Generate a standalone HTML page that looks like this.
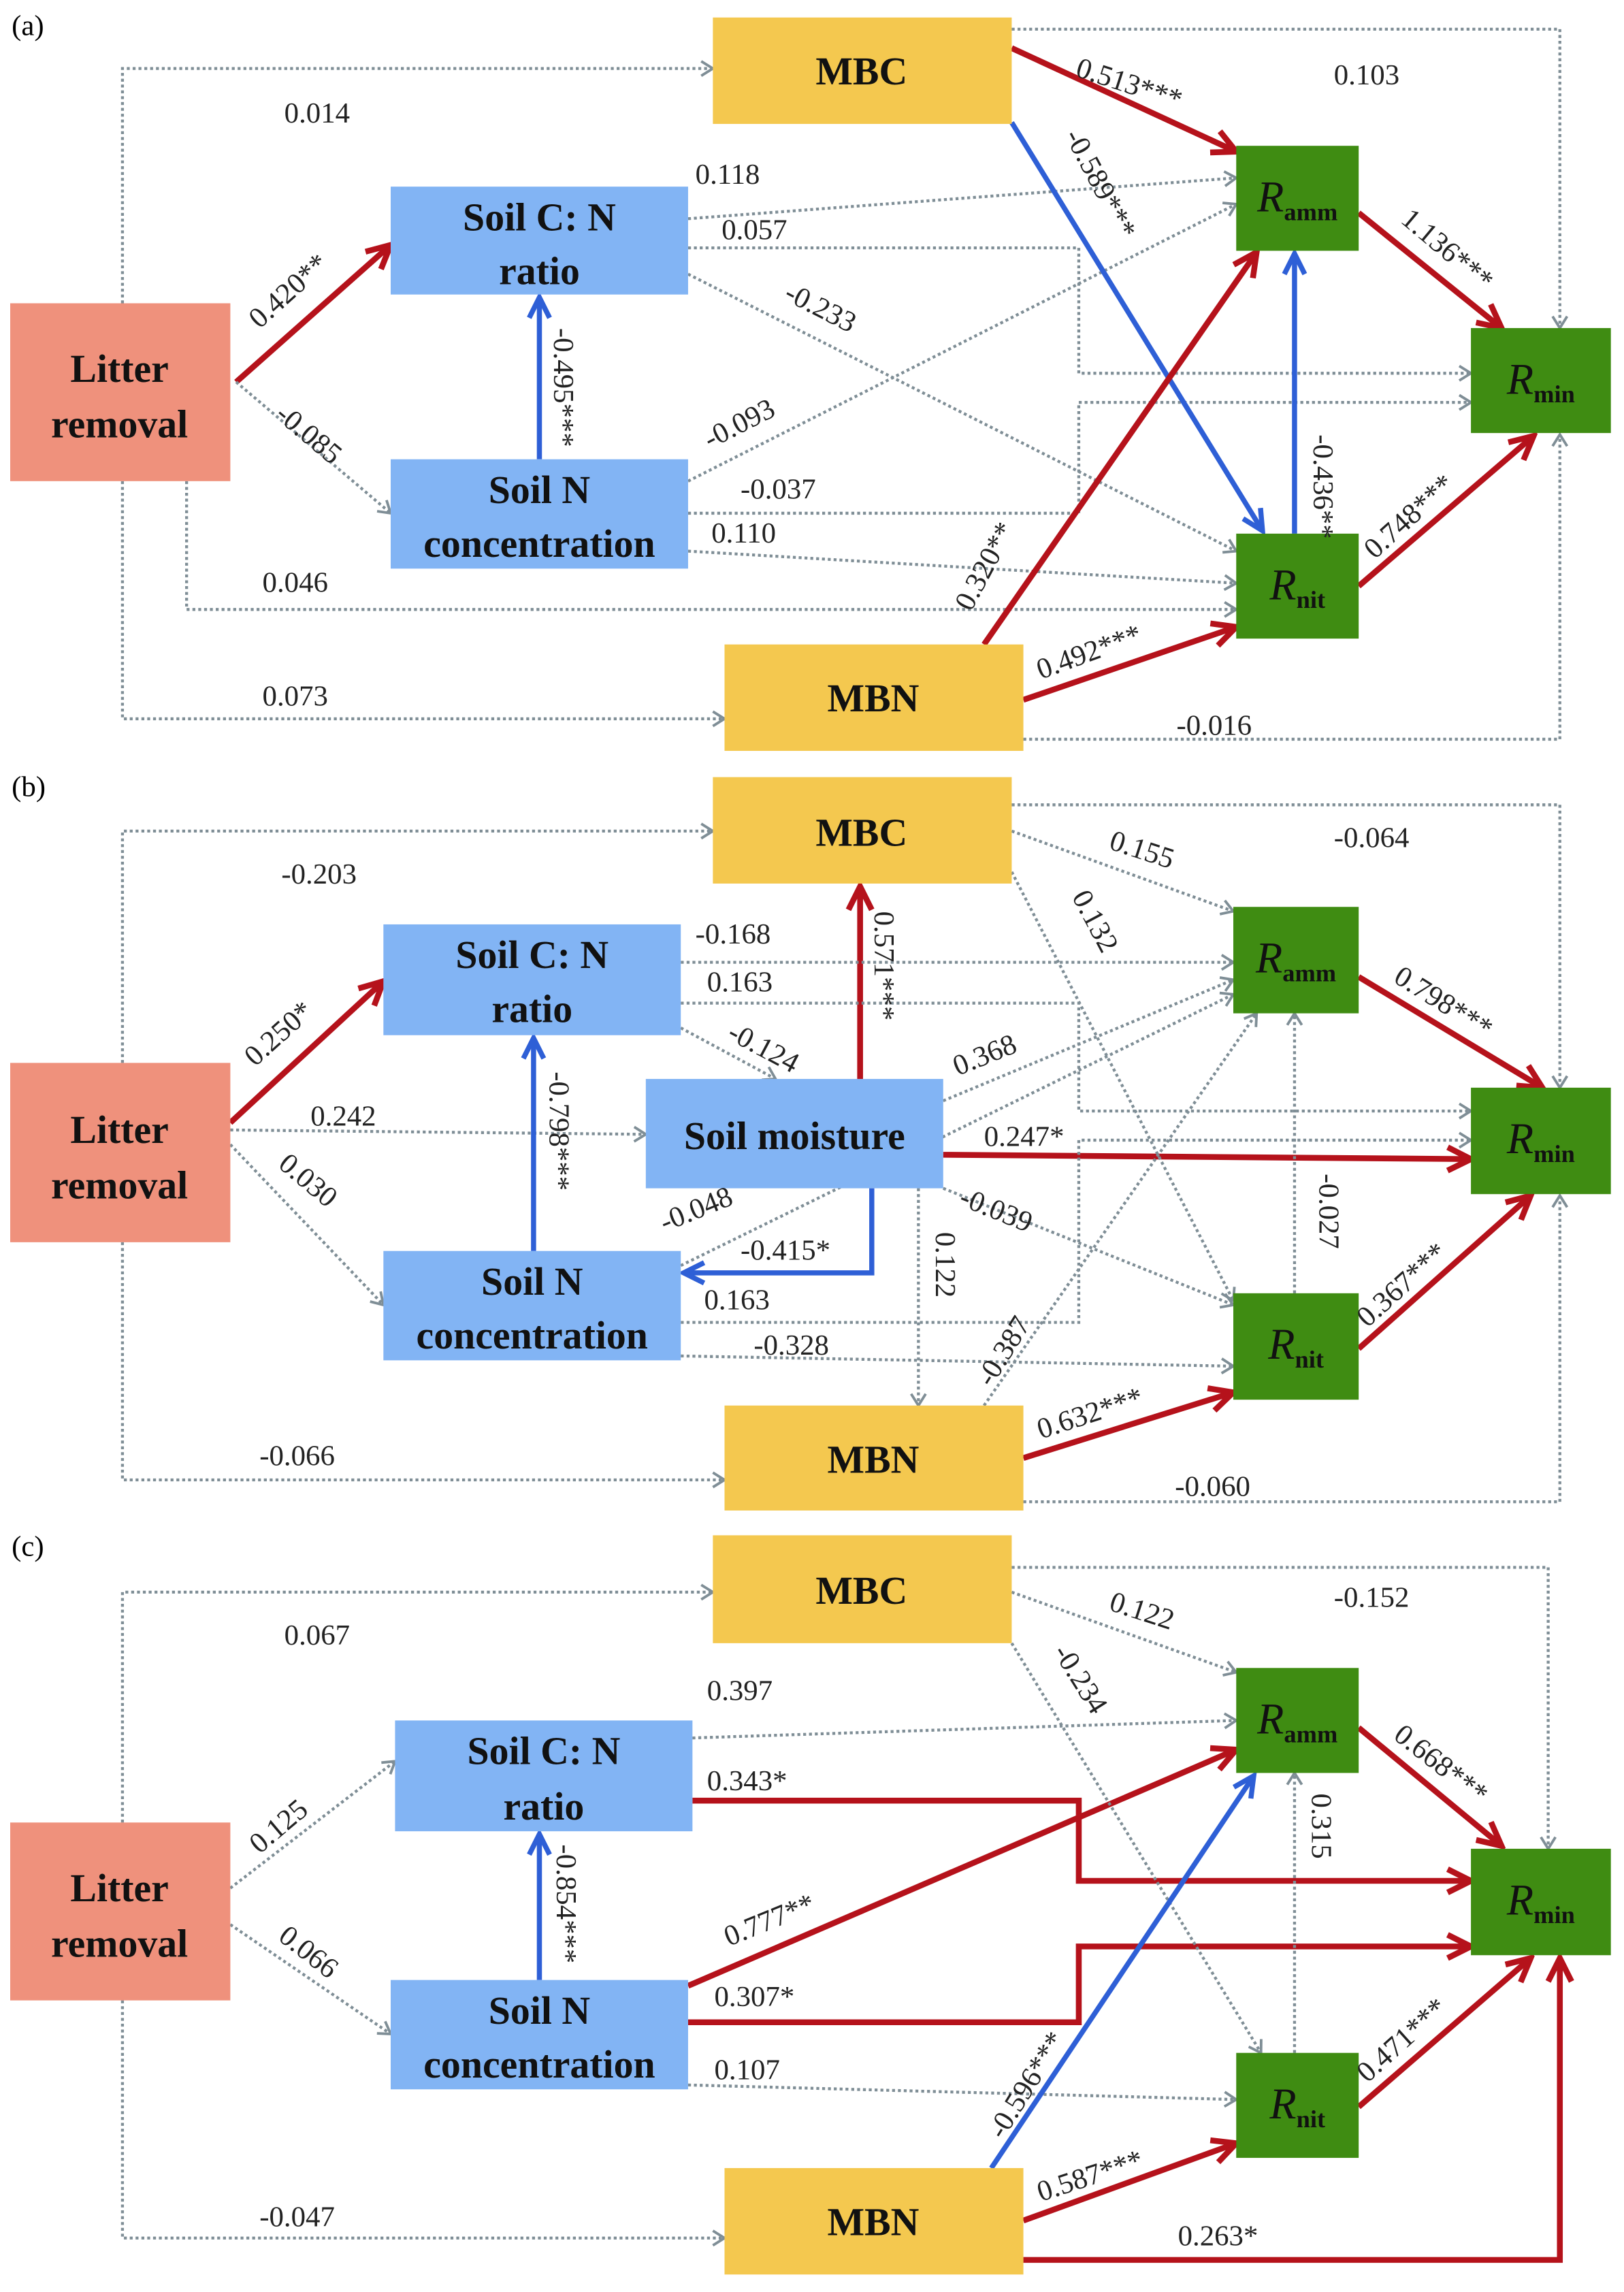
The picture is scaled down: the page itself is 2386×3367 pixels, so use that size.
<!DOCTYPE html>
<html><head><meta charset="utf-8"><style>
html,body{margin:0;padding:0;background:#fff}
svg{display:block}
text{font-family:"Liberation Serif",serif}
.b{font-family:"Liberation Serif",serif;font-weight:bold;font-size:27px;fill:#111;text-anchor:middle}
.l{font-family:"Liberation Serif",serif;font-size:20px;fill:#222}
.d{stroke:#7f8e96;stroke-width:2;stroke-dasharray:2 2;fill:none}
.r{stroke:#b5121b;stroke-width:4;fill:none}
.u{stroke:#2e5fd6;stroke-width:3.5;fill:none}
</style></head><body>
<svg width="2386" height="3367" viewBox="0 0 1114 1572" preserveAspectRatio="none" xmlns="http://www.w3.org/2000/svg" font-family="Liberation Serif, serif">
<defs>
<marker id="ad" markerUnits="userSpaceOnUse" markerWidth="12" markerHeight="12" refX="10" refY="6" orient="auto"><path d="M2,1 L10,6 L2,11" fill="none" stroke="#7f8e96" stroke-width="1.8"/></marker>
<marker id="ar" markerUnits="userSpaceOnUse" markerWidth="22" markerHeight="22" refX="19" refY="11" orient="auto"><path d="M3,3 L19,11 L3,19" fill="none" stroke="#b5121b" stroke-width="4"/></marker>
<marker id="au" markerUnits="userSpaceOnUse" markerWidth="20" markerHeight="20" refX="17" refY="10" orient="auto"><path d="M3,3 L17,10 L3,17" fill="none" stroke="#2e5fd6" stroke-width="3.5"/></marker>
</defs>

<!-- ===== Panel (a) ===== -->
<text x="8" y="24" font-size="20">(a)</text>
<g>
<polyline class="d" points="84,208 84,47 489,47" marker-end="url(#ad)"/>
<polyline class="d" points="84,330 84,493 497,493" marker-end="url(#ad)"/>
<polyline class="d" points="128,330 128,418 848,418" marker-end="url(#ad)"/>
<line class="r" x1="162" y1="262" x2="268" y2="168" marker-end="url(#ar)"/>
<line class="d" x1="162" y1="262" x2="268" y2="352" marker-end="url(#ad)"/>
<line class="u" x1="370" y1="315" x2="370" y2="204" marker-end="url(#au)"/>
<line class="d" x1="472" y1="150" x2="848" y2="122" marker-end="url(#ad)"/>
<polyline class="d" points="472,170 740,170 740,256 1009,256" marker-end="url(#ad)"/>
<line class="d" x1="472" y1="188" x2="848" y2="378" marker-end="url(#ad)"/>
<line class="d" x1="472" y1="330" x2="848" y2="140" marker-end="url(#ad)"/>
<polyline class="d" points="472,352 740,352 740,276 1009,276" marker-end="url(#ad)"/>
<line class="d" x1="472" y1="378" x2="848" y2="400" marker-end="url(#ad)"/>
<line class="r" x1="694" y1="33" x2="848" y2="104" marker-end="url(#ar)"/>
<polyline class="d" points="694,20 1070,20 1070,225" marker-end="url(#ad)"/>
<line class="u" x1="694" y1="84" x2="866" y2="364" marker-end="url(#au)"/>
<line class="r" x1="932" y1="146" x2="1030" y2="225" marker-end="url(#ar)"/>
<line class="u" x1="888" y1="366" x2="888" y2="174" marker-end="url(#au)"/>
<line class="r" x1="932" y1="402" x2="1052" y2="299" marker-end="url(#ar)"/>
<line class="r" x1="675" y1="442" x2="862" y2="173" marker-end="url(#ar)"/>
<line class="r" x1="702" y1="480" x2="848" y2="430" marker-end="url(#ar)"/>
<polyline class="d" points="702,507 1070,507 1070,298" marker-end="url(#ad)"/>
</g>
<rect x="489" y="12" width="205" height="73" fill="#f4c84f"/><text class="b" x="591" y="58">MBC</text>
<rect x="7" y="208" width="151" height="122" fill="#ef917c"/><text class="b" x="82" y="262">Litter</text><text class="b" x="82" y="300">removal</text>
<rect x="268" y="128" width="204" height="74" fill="#82b4f4"/><text class="b" x="370" y="158">Soil C: N</text><text class="b" x="370" y="195">ratio</text>
<rect x="268" y="315" width="204" height="75" fill="#82b4f4"/><text class="b" x="370" y="345">Soil N</text><text class="b" x="370" y="382">concentration</text>
<rect x="848" y="100" width="84" height="72" fill="#3f8c12"/><text class="b" x="890" y="145"><tspan font-style="italic" font-weight="normal" font-size="30">R</tspan><tspan font-size="17" dy="6">amm</tspan></text>
<rect x="1009" y="225" width="96" height="72" fill="#3f8c12"/><text class="b" x="1057" y="270"><tspan font-style="italic" font-weight="normal" font-size="30">R</tspan><tspan font-size="17" dy="6">min</tspan></text>
<rect x="848" y="366" width="84" height="72" fill="#3f8c12"/><text class="b" x="890" y="411"><tspan font-style="italic" font-weight="normal" font-size="30">R</tspan><tspan font-size="17" dy="6">nit</tspan></text>
<rect x="497" y="442" width="205" height="73" fill="#f4c84f"/><text class="b" x="599" y="488">MBN</text>
<g>
<text x="195" y="84" class="l">0.014</text>
<text x="178" y="226" class="l" transform="rotate(-42,178,226)">0.420**</text>
<text x="188" y="286" class="l" transform="rotate(40,188,286)">-0.085</text>
<text x="380" y="225" class="l" transform="rotate(90,380,225)">-0.495***</text>
<text x="477" y="126" class="l">0.118</text>
<text x="495" y="164" class="l">0.057</text>
<text x="537" y="205" class="l" transform="rotate(27,537,205)">-0.233</text>
<text x="487" y="308" class="l" transform="rotate(-27,487,308)">-0.093</text>
<text x="508" y="342" class="l">-0.037</text>
<text x="488" y="372" class="l">0.110</text>
<text x="180" y="406" class="l">0.046</text>
<text x="180" y="484" class="l">0.073</text>
<text x="737" y="52" class="l" transform="rotate(18,737,52)">0.513***</text>
<text x="915" y="58" class="l">0.103</text>
<text x="730" y="93" class="l" transform="rotate(62,730,93)">-0.589***</text>
<text x="960" y="152" class="l" transform="rotate(40,960,152)">1.136***</text>
<text x="901" y="298" class="l" transform="rotate(90,901,298)">-0.436**</text>
<text x="943" y="384" class="l" transform="rotate(-42,943,384)">0.748***</text>
<text x="666" y="420" class="l" transform="rotate(-62,666,420)">0.320**</text>
<text x="714" y="466" class="l" transform="rotate(-20,714,466)">0.492***</text>
<text x="807" y="504" class="l">-0.016</text>
</g>

<!-- ===== Panel (b) ===== -->
<text x="8" y="546" font-size="20">(b)</text>
<g>
<polyline class="d" points="84,729 84,570 489,570" marker-end="url(#ad)"/>
<polyline class="d" points="84,852 84,1015 497,1015" marker-end="url(#ad)"/>
<line class="r" x1="158" y1="770" x2="263" y2="673" marker-end="url(#ar)"/>
<line class="d" x1="158" y1="775" x2="443" y2="778" marker-end="url(#ad)"/>
<line class="d" x1="158" y1="785" x2="263" y2="895" marker-end="url(#ad)"/>
<line class="u" x1="366" y1="858" x2="366" y2="712" marker-end="url(#au)"/>
<line class="r" x1="590" y1="740" x2="590" y2="608" marker-end="url(#ar)"/>
<polyline class="u" points="598,815 598,873 469,873" marker-end="url(#au)"/>
<line class="r" x1="647" y1="792" x2="1009" y2="795" marker-end="url(#ar)"/>
<line class="d" x1="647" y1="755" x2="846" y2="672" marker-end="url(#ad)"/>
<line class="d" x1="647" y1="815" x2="846" y2="895" marker-end="url(#ad)"/>
<line class="d" x1="630" y1="815" x2="630" y2="964" marker-end="url(#ad)"/>
<line class="d" x1="467" y1="660" x2="846" y2="660" marker-end="url(#ad)"/>
<polyline class="d" points="467,688 740,688 740,762 1009,762" marker-end="url(#ad)"/>
<line class="d" x1="467" y1="705" x2="532" y2="740" marker-end="url(#ad)"/>
<line class="d" x1="467" y1="868" x2="846" y2="682" marker-end="url(#ad)"/>
<polyline class="d" points="467,907 740,907 740,782 1009,782" marker-end="url(#ad)"/>
<line class="d" x1="467" y1="930" x2="846" y2="937" marker-end="url(#ad)"/>
<line class="d" x1="694" y1="570" x2="846" y2="625" marker-end="url(#ad)"/>
<line class="d" x1="694" y1="598" x2="846" y2="892" marker-end="url(#ad)"/>
<polyline class="d" points="694,552 1070,552 1070,746" marker-end="url(#ad)"/>
<line class="r" x1="932" y1="670" x2="1058" y2="746" marker-end="url(#ar)"/>
<line class="d" x1="888" y1="887" x2="888" y2="695" marker-end="url(#ad)"/>
<line class="r" x1="932" y1="925" x2="1050" y2="820" marker-end="url(#ar)"/>
<line class="d" x1="675" y1="964" x2="862" y2="695" marker-end="url(#ad)"/>
<line class="r" x1="702" y1="1000" x2="846" y2="955" marker-end="url(#ar)"/>
<polyline class="d" points="702,1030 1070,1030 1070,820" marker-end="url(#ad)"/>
</g>
<rect x="489" y="533" width="205" height="73" fill="#f4c84f"/><text class="b" x="591" y="580">MBC</text>
<rect x="7" y="729" width="151" height="123" fill="#ef917c"/><text class="b" x="82" y="784">Litter</text><text class="b" x="82" y="822">removal</text>
<rect x="263" y="634" width="204" height="76" fill="#82b4f4"/><text class="b" x="365" y="664">Soil C:  N</text><text class="b" x="365" y="701">ratio</text>
<rect x="263" y="858" width="204" height="75" fill="#82b4f4"/><text class="b" x="365" y="888">Soil N</text><text class="b" x="365" y="925">concentration</text>
<rect x="443" y="740" width="204" height="75" fill="#82b4f4"/><text class="b" x="545" y="788">Soil moisture</text>
<rect x="846" y="622" width="86" height="73" fill="#3f8c12"/><text class="b" x="889" y="667"><tspan font-style="italic" font-weight="normal" font-size="30">R</tspan><tspan font-size="17" dy="6">amm</tspan></text>
<rect x="1009" y="746" width="96" height="73" fill="#3f8c12"/><text class="b" x="1057" y="791"><tspan font-style="italic" font-weight="normal" font-size="30">R</tspan><tspan font-size="17" dy="6">min</tspan></text>
<rect x="846" y="887" width="86" height="73" fill="#3f8c12"/><text class="b" x="889" y="932"><tspan font-style="italic" font-weight="normal" font-size="30">R</tspan><tspan font-size="17" dy="6">nit</tspan></text>
<rect x="497" y="964" width="205" height="72" fill="#f4c84f"/><text class="b" x="599" y="1010">MBN</text>
<g>
<text x="193" y="606" class="l">-0.203</text>
<text x="175" y="732" class="l" transform="rotate(-42,175,732)">0.250*</text>
<text x="213" y="772" class="l">0.242</text>
<text x="190" y="800" class="l" transform="rotate(40,190,800)">0.030</text>
<text x="377" y="735" class="l" transform="rotate(90,377,735)">-0.798***</text>
<text x="600" y="625" class="l" transform="rotate(90,600,625)">0.571***</text>
<text x="477" y="647" class="l">-0.168</text>
<text x="485" y="680" class="l">0.163</text>
<text x="498" y="712" class="l" transform="rotate(28,498,712)">-0.124</text>
<text x="657" y="738" class="l" transform="rotate(-22,657,738)">0.368</text>
<text x="675" y="786" class="l">0.247*</text>
<text x="456" y="845" class="l" transform="rotate(-22,456,845)">-0.048</text>
<text x="508" y="864" class="l">-0.415*</text>
<text x="483" y="898" class="l">0.163</text>
<text x="517" y="929" class="l">-0.328</text>
<text x="657" y="826" class="l" transform="rotate(22,657,826)">-0.039</text>
<text x="642" y="845" class="l" transform="rotate(90,642,845)">0.122</text>
<text x="178" y="1005" class="l">-0.066</text>
<text x="760" y="582" class="l" transform="rotate(18,760,582)">0.155</text>
<text x="735" y="615" class="l" transform="rotate(62,735,615)">0.132</text>
<text x="915" y="581" class="l">-0.064</text>
<text x="955" y="673" class="l" transform="rotate(32,955,673)">0.798***</text>
<text x="905" y="805" class="l" transform="rotate(90,905,805)">-0.027</text>
<text x="938" y="911" class="l" transform="rotate(-42,938,911)">0.367***</text>
<text x="680" y="952" class="l" transform="rotate(-58,680,952)">-0.387</text>
<text x="714" y="987" class="l" transform="rotate(-18,714,987)">0.632***</text>
<text x="806" y="1026" class="l">-0.060</text>
</g>

<!-- ===== Panel (c) ===== -->
<text x="8" y="1067" font-size="20">(c)</text>
<g>
<polyline class="d" points="84,1250 84,1092 489,1092" marker-end="url(#ad)"/>
<polyline class="d" points="84,1372 84,1535 497,1535" marker-end="url(#ad)"/>
<line class="d" x1="158" y1="1295" x2="271" y2="1208" marker-end="url(#ad)"/>
<line class="d" x1="158" y1="1320" x2="268" y2="1395" marker-end="url(#ad)"/>
<line class="u" x1="370" y1="1358" x2="370" y2="1258" marker-end="url(#au)"/>
<line class="d" x1="475" y1="1192" x2="848" y2="1180" marker-end="url(#ad)"/>
<polyline class="r" points="475,1235 740,1235 740,1290 1009,1290" marker-end="url(#ar)"/>
<line class="r" x1="472" y1="1362" x2="848" y2="1200" marker-end="url(#ar)"/>
<polyline class="r" points="472,1387 740,1387 740,1335 1009,1335" marker-end="url(#ar)"/>
<line class="d" x1="472" y1="1430" x2="848" y2="1440" marker-end="url(#ad)"/>
<line class="d" x1="694" y1="1092" x2="848" y2="1147" marker-end="url(#ad)"/>
<line class="d" x1="694" y1="1127" x2="865" y2="1408" marker-end="url(#ad)"/>
<polyline class="d" points="694,1075 1062,1075 1062,1268" marker-end="url(#ad)"/>
<line class="r" x1="932" y1="1185" x2="1030" y2="1266" marker-end="url(#ar)"/>
<line class="d" x1="888" y1="1408" x2="888" y2="1216" marker-end="url(#ad)"/>
<line class="r" x1="932" y1="1445" x2="1050" y2="1343" marker-end="url(#ar)"/>
<line class="u" x1="680" y1="1487" x2="860" y2="1218" marker-end="url(#au)"/>
<line class="r" x1="702" y1="1523" x2="848" y2="1470" marker-end="url(#ar)"/>
<polyline class="r" points="702,1550 1070,1550 1070,1343" marker-end="url(#ar)"/>
</g>
<rect x="489" y="1053" width="205" height="74" fill="#f4c84f"/><text class="b" x="591" y="1100">MBC</text>
<rect x="7" y="1250" width="151" height="122" fill="#ef917c"/><text class="b" x="82" y="1304">Litter</text><text class="b" x="82" y="1342">removal</text>
<rect x="271" y="1180" width="204" height="76" fill="#82b4f4"/><text class="b" x="373" y="1210">Soil C:  N</text><text class="b" x="373" y="1248">ratio</text>
<rect x="268" y="1358" width="204" height="75" fill="#82b4f4"/><text class="b" x="370" y="1388">Soil N</text><text class="b" x="370" y="1425">concentration</text>
<rect x="848" y="1144" width="84" height="72" fill="#3f8c12"/><text class="b" x="890" y="1189"><tspan font-style="italic" font-weight="normal" font-size="30">R</tspan><tspan font-size="17" dy="6">amm</tspan></text>
<rect x="1009" y="1268" width="96" height="73" fill="#3f8c12"/><text class="b" x="1057" y="1313"><tspan font-style="italic" font-weight="normal" font-size="30">R</tspan><tspan font-size="17" dy="6">min</tspan></text>
<rect x="848" y="1408" width="84" height="72" fill="#3f8c12"/><text class="b" x="890" y="1453"><tspan font-style="italic" font-weight="normal" font-size="30">R</tspan><tspan font-size="17" dy="6">nit</tspan></text>
<rect x="497" y="1487" width="205" height="73" fill="#f4c84f"/><text class="b" x="599" y="1533">MBN</text>
<g>
<text x="195" y="1128" class="l">0.067</text>
<text x="178" y="1272" class="l" transform="rotate(-40,178,1272)">0.125</text>
<text x="190" y="1330" class="l" transform="rotate(38,190,1330)">0.066</text>
<text x="382" y="1265" class="l" transform="rotate(90,382,1265)">-0.854***</text>
<text x="485" y="1166" class="l">0.397</text>
<text x="485" y="1228" class="l">0.343*</text>
<text x="500" y="1335" class="l" transform="rotate(-22,500,1335)">0.777**</text>
<text x="490" y="1376" class="l">0.307*</text>
<text x="490" y="1426" class="l">0.107</text>
<text x="178" y="1527" class="l">-0.047</text>
<text x="760" y="1104" class="l" transform="rotate(18,760,1104)">0.122</text>
<text x="722" y="1133" class="l" transform="rotate(58,722,1133)">-0.234</text>
<text x="915" y="1102" class="l">-0.152</text>
<text x="955" y="1192" class="l" transform="rotate(38,955,1192)">0.668***</text>
<text x="900" y="1230" class="l" transform="rotate(90,900,1230)">0.315</text>
<text x="938" y="1429" class="l" transform="rotate(-42,938,1429)">0.471***</text>
<text x="688" y="1468" class="l" transform="rotate(-58,688,1468)">-0.596***</text>
<text x="714" y="1510" class="l" transform="rotate(-18,714,1510)">0.587***</text>
<text x="808" y="1540" class="l">0.263*</text>
</g>
</svg>
</body></html>
